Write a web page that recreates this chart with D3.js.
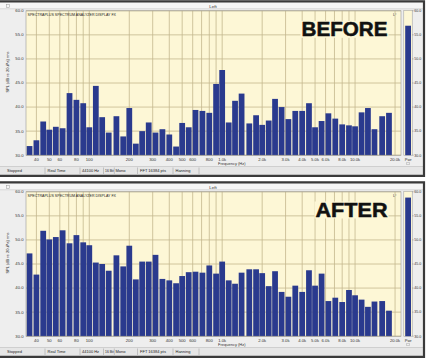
<!DOCTYPE html>
<html>
<head>
<meta charset="utf-8">
<script src="https://cdn.jsdelivr.net/npm/d3@7/dist/d3.min.js"></script>
<style>
  html, body { margin: 0; padding: 0; background: #ffffff; }
  svg { display: block; }
  text { font-family: "Liberation Sans", Arial, sans-serif; }
</style>
</head>
<body>
<svg id="chart" width="429" height="359"></svg>
<script>
// ---------------- DATA ----------------
// 1/6-octave band centre frequencies (Hz)
const bandFreqs = [35.5, 40, 45, 50, 56, 63, 71, 80, 90, 100,
  112, 125, 140, 160, 180, 200, 224, 250, 280, 315,
  355, 400, 450, 500, 560, 630, 710, 800, 900, 1000,
  1120, 1250, 1400, 1600, 1800, 2000, 2240, 2500, 2800, 3150,
  3550, 4000, 4500, 5000, 5600, 6300, 7100, 8000, 9000, 10000,
  11200, 12500, 14000, 16000, 18000];

// SPL (dB re 20uPa) rms, BEFORE panel
const beforeDb = [31.9, 33.1, 37.0, 35.3, 35.9, 35.6, 42.9, 41.5, 40.8, 35.8,
  44.4, 37.9, 34.7, 38.1, 33.9, 39.8, 32.4, 35.0, 36.8, 34.7,
  35.4, 34.3, 31.8, 36.7, 35.8, 39.4, 39.2, 38.8, 44.8, 47.7,
  36.8, 41.3, 42.8, 36.6, 38.3, 36.3, 37.2, 41.7, 40.0, 37.5,
  39.2, 39.2, 40.8, 35.8, 37.1, 38.7, 37.6, 36.4, 36.2, 36.0,
  38.9, 39.8, 35.4, 38.1, 38.8];

// SPL (dB re 20uPa) rms, AFTER panel
const afterDb = [47.2, 42.8, 51.9, 50.1, 50.6, 52.0, 49.3, 51.0, 49.5, 48.9,
  45.3, 45.0, 43.6, 46.8, 44.5, 48.8, 41.8, 45.5, 45.5, 46.9,
  41.9, 41.6, 41.0, 42.5, 43.3, 43.4, 43.2, 44.7, 43.0, 45.5,
  41.6, 40.9, 43.2, 43.9, 43.9, 43.1, 40.4, 43.5, 39.2, 38.2,
  40.5, 39.2, 43.7, 40.5, 43.0, 37.3, 38.0, 37.1, 39.6, 38.5,
  37.6, 36.1, 37.2, 37.3, 35.3];

// overall power bar (right-hand column)
const pwrDb = [56.9, 58.8];

const panelTitles = ["BEFORE", "AFTER"];

const yTickValues = [30, 35, 40, 45, 50, 55, 60];
const yTickLabels = ["30.0", "35.0", "40.0", "45.0", "50.0", "55.0", "60.0"];

const xGridFreqs = [40, 50, 60, 70, 80, 90, 100, 200, 300, 400, 500, 600, 700, 800, 900,
  1000, 2000, 3000, 4000, 5000, 6000, 7000, 8000, 9000, 10000, 20000];
const xTickFreqs = [40, 50, 60, 80, 100, 200, 300, 400, 500, 600, 800,
  1000, 2000, 3000, 4000, 5000, 6000, 8000, 10000, 20000];
const xTickLabels = ["40", "50", "60", "80", "100", "200", "300", "400", "500", "600", "800",
  "1.0k", "2.0k", "3.0k", "4.0k", "5.0k", "6.0k", "8.0k", "10.0k", "20.0k"];

const statusFields = ["Stopped", "Real Time", "44100 Hz", "16 Bit", "Mono", "FFT 16384 pts", "Hanning"];

// ---------------- LAYOUT ----------------
const svg = d3.select("#chart");
const plotL = 26, plotR = 401;
const plotT = 10.8, plotB = 155.2;
const COL = {
  win: "#eeeeee", plot: "#fdf7d6", grid: "#c4b88e", bar: "#2a3a8e",
  border: "#3a3a3a", text: "#333333"
};

const x = d3.scaleLog().domain([33.4, 22170]).range([plotL, plotR]);
const y = d3.scaleLinear().domain([30, 60]).range([plotB, plotT]);
const halfBand = Math.pow(2, 1 / 12);

function drawPanel(oy, values, pwr, title) {
  const g = svg.append("g").attr("transform", `translate(0,${oy})`);

  // window background
  g.append("rect").attr("x", 0).attr("y", 0).attr("width", 424.5).attr("height", 176)
    .attr("fill", COL.win);
  // header strip
  g.append("rect").attr("x", 0).attr("y", 2.5).attr("width", 424).attr("height", 6)
    .attr("fill", "#f6f6f6");
  g.append("line").attr("x1", 0).attr("x2", 424).attr("y1", 8.8).attr("y2", 8.8)
    .attr("stroke", "#c8c8c8").attr("stroke-width", 0.6);
  g.append("text").attr("x", 213).attr("y", 7.6).attr("text-anchor", "middle")
    .attr("font-size", 4.4).attr("fill", COL.text).text("Left");
  g.append("rect").attr("x", 6.5).attr("y", 4.5).attr("width", 3).attr("height", 3)
    .attr("fill", "none").attr("stroke", "#999").attr("stroke-width", 0.5);

  // plot background
  g.append("rect").attr("x", plotL).attr("y", plotT).attr("width", plotR - plotL)
    .attr("height", plotB - plotT).attr("fill", COL.plot);

  // grid
  g.append("g").selectAll("line").data(xGridFreqs).join("line")
    .attr("x1", d => x(d)).attr("x2", d => x(d)).attr("y1", plotT).attr("y2", plotB)
    .attr("stroke", COL.grid).attr("stroke-width", 0.8);
  g.append("g").selectAll("line").data(yTickValues).join("line")
    .attr("x1", plotL).attr("x2", plotR).attr("y1", d => y(d)).attr("y2", d => y(d))
    .attr("stroke", COL.grid).attr("stroke-width", 0.8);

  // inner caption text
  g.append("text").attr("x", 27.5).attr("y", 16.3).attr("font-size", 3.6)
    .attr("fill", "#222").text("SPECTRAPLUS  SPECTRUM ANALYZER DISPLAY  FX");
  g.append("text").attr("x", 393).attr("y", 15.5).attr("font-size", 3.8)
    .attr("fill", "#444").text("L°");

  // title with background box
  const tx = 387.5, ty = oy === 0 ? 36.3 : 36.0;
  const tw = title.length > 5 ? 86 : 72;
  g.append("rect").attr("x", tx - tw - 1).attr("y", ty - 15.5).attr("width", tw + 2)
    .attr("height", 17).attr("fill", COL.plot);

  // bars
  g.append("g").selectAll("rect").data(values).join("rect")
    .attr("x", (d, i) => x(bandFreqs[i] / halfBand) + 0.45)
    .attr("width", (d, i) => x(bandFreqs[i] * halfBand) - x(bandFreqs[i] / halfBand) - 0.9)
    .attr("y", d => y(d)).attr("height", d => y(30) - y(d))
    .attr("fill", COL.bar);

  g.append("text").attr("x", tx).attr("y", ty).attr("text-anchor", "end")
    .attr("font-family", "Inter, Roboto, 'DejaVu Sans', sans-serif")
    .attr("font-weight", 900).attr("font-size", 19.5)
    .attr("fill", "#111").attr("stroke", "#111").attr("stroke-width", 0.5)
    .attr("textLength", tw).attr("lengthAdjust", "spacingAndGlyphs")
    .text(title);

  // plot border
  g.append("rect").attr("x", plotL).attr("y", plotT).attr("width", plotR - plotL)
    .attr("height", plotB - plotT).attr("fill", "none")
    .attr("stroke", "#9a9a9a").attr("stroke-width", 0.6);

  // y labels (left)
  g.append("g").selectAll("text").data(yTickValues).join("text")
    .attr("x", 23.5).attr("y", d => y(d) + 1.4).attr("text-anchor", "end")
    .attr("font-size", 4.2).attr("fill", COL.text)
    .text((d, i) => yTickLabels[i]);
  g.append("text")
    .attr("transform", `translate(9.2,72) rotate(-90)`)
    .attr("text-anchor", "middle").attr("font-size", 4.0).attr("fill", COL.text)
    .text("SPL (dB re 20uPa) rms");

  // x labels
  g.append("g").selectAll("text").data(xTickFreqs).join("text")
    .attr("x", d => x(d)).attr("y", 160.6).attr("text-anchor", "middle")
    .attr("font-size", 4.2).attr("fill", COL.text)
    .text((d, i) => xTickLabels[i]);
  g.append("text").attr("x", 218).attr("y", 165.2).attr("font-size", 4.0)
    .attr("fill", COL.text).text("Frequency (Hz)");

  // power column
  g.append("rect").attr("x", 403.8).attr("y", plotT - 0.5).attr("width", 8.4)
    .attr("height", plotB - plotT + 0.5).attr("fill", COL.plot)
    .attr("stroke", "#9a9a9a").attr("stroke-width", 0.5);
  g.append("rect").attr("x", 405.2).attr("y", y(pwr)).attr("width", 5.8)
    .attr("height", y(30) - y(pwr)).attr("fill", COL.bar);
  g.append("g").selectAll("line").data(yTickValues).join("line")
    .attr("x1", 412.2).attr("x2", 413.6).attr("y1", d => y(d)).attr("y2", d => y(d))
    .attr("stroke", "#777").attr("stroke-width", 0.5);
  g.append("g").selectAll("text").data(yTickValues).join("text")
    .attr("x", 414.2).attr("y", d => y(d) + 1.3)
    .attr("font-size", 3.6).attr("fill", COL.text)
    .text((d, i) => yTickLabels[i]);
  g.append("text").attr("x", 408.2).attr("y", 160.6).attr("text-anchor", "middle")
    .attr("font-size", 4.0).attr("fill", COL.text).text("Pwr");
  g.append("rect").attr("x", 406.8).attr("y", 162.2).attr("width", 2.6).attr("height", 2.6)
    .attr("fill", "none").attr("stroke", "#999").attr("stroke-width", 0.4);

  // status bar
  g.append("rect").attr("x", 0).attr("y", 166.3).attr("width", 424).attr("height", 8.6)
    .attr("fill", "#e6e6e6");
  g.append("line").attr("x1", 0).attr("x2", 424).attr("y1", 166.5).attr("y2", 166.5)
    .attr("stroke", "#bdbdbd").attr("stroke-width", 0.6);
  const fieldX = [7, 47.5, 82, 105, 115.5, 140, 175.5];
  const sepX = [45, 80, 103.5, 114.3, 137.5, 173, 199];
  g.append("g").selectAll("line").data(sepX).join("line")
    .attr("x1", d => d).attr("x2", d => d).attr("y1", 167.5).attr("y2", 174)
    .attr("stroke", "#a6a6a6").attr("stroke-width", 0.6);
  g.append("g").selectAll("text").data(statusFields).join("text")
    .attr("x", (d, i) => fieldX[i]).attr("y", 172.4)
    .attr("font-size", (d, i) => (i === 3 ? 3.4 : 4.0)).attr("fill", "#222").text(d => d);

  // dark window border (top, right, bottom)
  g.append("path")
    .attr("d", "M0,1.3 H424 V175.8 H0")
    .attr("fill", "none").attr("stroke", COL.border).attr("stroke-width", 2.2);
}

drawPanel(0, beforeDb, pwrDb[0], panelTitles[0]);
drawPanel(181, afterDb, pwrDb[1], panelTitles[1]);
</script>
</body>
</html>
